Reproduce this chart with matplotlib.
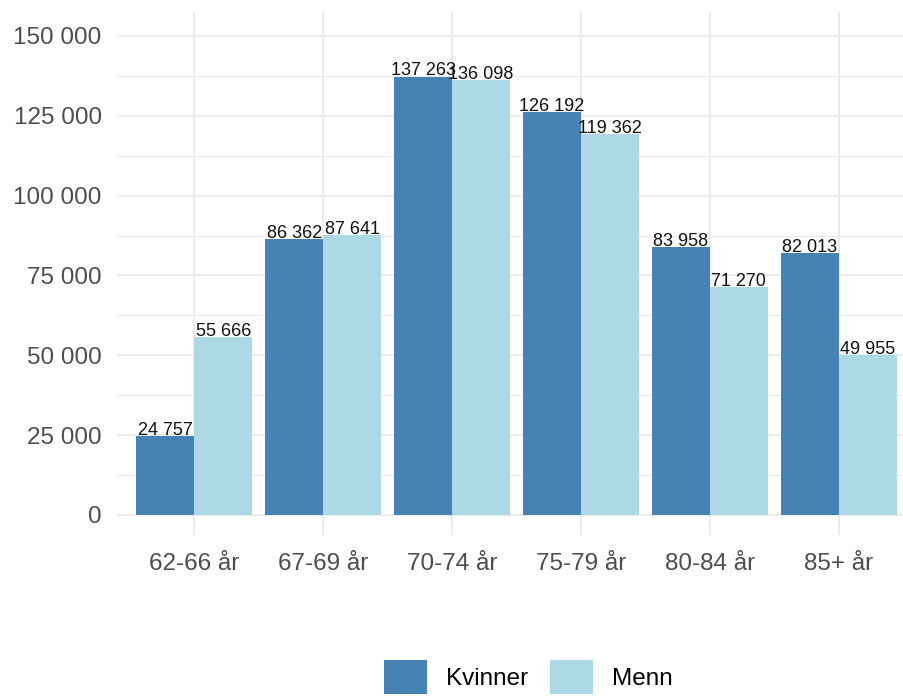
import matplotlib
matplotlib.use("Agg")
import matplotlib.pyplot as plt
import numpy as np
from matplotlib.patches import Patch

# --- DATA ---
age_groups = ["62-66 år", "67-69 år", "70-74 år", "75-79 år", "80-84 år", "85+ år"]
kvinner = [24757, 86362, 137263, 126192, 83958, 82013]
menn = [55666, 87641, 136098, 119362, 71270, 49955]
y_ticks = [0, 25000, 50000, 75000, 100000, 125000, 150000]

COL_K = "#4682B4"
COL_M = "#ADD8E6"
GRID = "#EBEBEB"

plt.rcParams['font.family'] = ['Liberation Sans', 'DejaVu Sans']


def fmt(v):
    return f"{v:,}".replace(",", " ")


fig = plt.figure(figsize=(9.04, 6.98), dpi=100)
fig.patch.set_facecolor("white")
# panel runs slightly past the right edge, like the cropped original
ax = fig.add_axes([117 / 904, (698 - 535) / 698, 799 / 904, (535 - 12) / 698])

x = np.arange(len(age_groups))
w = 0.45
ax.bar(x - w / 2, kvinner, width=w, color=COL_K, zorder=3)
ax.bar(x + w / 2, menn, width=w, color=COL_M, zorder=3)

for xi, v in zip(x - w / 2, kvinner):
    ax.text(xi, v - 900, fmt(v), ha="center", va="bottom", fontsize=13, color="#111111", zorder=4)
for xi, v in zip(x + w / 2, menn):
    ax.text(xi, v - 900, fmt(v), ha="center", va="bottom", fontsize=13, color="#111111", zorder=4)

ax.set_xlim(-0.6, len(age_groups) - 1 + 0.6)
ax.set_ylim(-6300, 157500)

ax.set_xticks(x)
ax.set_xticklabels(age_groups)
ax.set_yticks(y_ticks)
ax.set_yticklabels([fmt(t) for t in y_ticks])
ax.set_yticks([12500, 37500, 62500, 87500, 112500, 137500], minor=True)

ax.tick_params(axis="both", which="both", length=0, labelsize=17.5, labelcolor="#4D4D4D")
ax.tick_params(axis="x", pad=13)
ax.tick_params(axis="y", pad=11)

ax.grid(True, which="major", color=GRID, linewidth=1.4, zorder=0)
ax.grid(True, which="minor", axis="y", color=GRID, linewidth=0.8, zorder=0)
ax.set_axisbelow(True)
for s in ax.spines.values():
    s.set_visible(False)

handles = [Patch(facecolor=COL_K, label="Kvinner"), Patch(facecolor=COL_M, label="Menn")]
fig.legend(handles=handles, loc="center", bbox_to_anchor=(0.584, 0.03), ncol=2,
           frameon=False, fontsize=17.5, handlelength=1.8, handleheight=1.8,
           handletextpad=0.75, columnspacing=0.9)

fig.savefig("out.png", dpi=100)
